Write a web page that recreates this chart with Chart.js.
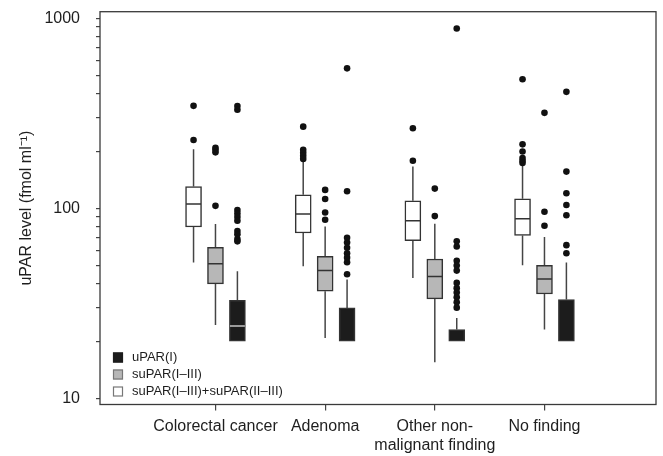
<!DOCTYPE html>
<html><head><meta charset="utf-8">
<script src="https://cdn.jsdelivr.net/npm/chart.js@4/dist/chart.umd.min.js"></script>
<style>html,body{margin:0;padding:0;background:#fff}canvas{display:block}</style>
</head><body>
<canvas id="c" width="663" height="456"></canvas>
<script>
// ---------------- DATA ----------------
const categories = ['Colorectal cancer', 'Adenoma', ['Other non-', 'malignant finding'], 'No finding'];
const seriesNames = ['uPAR(I)', 'suPAR(I–III)', 'suPAR(I–III)+suPAR(II–III)'];
const yTickValues = [10, 20, 30, 40, 50, 60, 70, 80, 90, 100, 200, 300, 400, 500, 600, 700, 800, 900, 1000];
const yTickLabels = ['10', '100', '1000'];
const yTitle = 'uPAR level (fmol ml⁻¹)';

// suPAR(I–III)+suPAR(II–III)  (white boxes)
const sumLow  = [51.9, 49.5, 43.0, 50.1];
const sumQ1   = [79.7, 74.1, 67.5, 72.0];
const sumMed  = [105.2, 93.2, 86.0, 88.1];
const sumQ3   = [130.1, 117.7, 109.5, 112.2];
const sumHigh = [204.5, 179.7, 165.8, 167.8];
const sumOut  = [[346, 229], [269, 203, 196, 189, 182], [264, 178], [478, 217, 199, 184, 178, 173]];

// suPAR(I–III)  (grey boxes)
const suLow  = [24.3, 20.8, 15.5, 23.0];
const suQ1   = [40.0, 36.6, 33.4, 35.4];
const suMed  = [51.1, 47.0, 43.7, 42.5];
const suQ3   = [62.3, 55.8, 54.1, 50.1];
const suHigh = [82.6, 80.3, 82.9, 70.6];
const suOut  = [[208, 203, 197, 103], [125, 112, 95, 87], [127, 91], [318, 96, 81]];

// uPAR(I)  (black boxes)
const uLow  = [20, 20, 20, 20];
const uQ1   = [20, 20, 20, 20];
const uMed  = [24.0, 20, 20, 20];
const uQ3   = [32.8, 29.9, 23.0, 33.1];
const uHigh = [46.6, 42.2, 26.5, 51.9];
const uOut  = [[345, 330, 98, 94, 90, 86, 76, 73, 69, 67],
               [545, 123, 70, 66, 62, 58, 55, 52, 45],
               [883, 67, 63, 53, 50, 47, 40.5, 38, 36, 34, 32, 30],
               [410, 156, 120, 104, 92, 64, 58]];

// ---------------- STYLE / LAYOUT ----------------
const FONT = '"Liberation Sans", Arial, Helvetica, sans-serif';
const INK = '#1e1e1e';
const BOX_HALF = 0.068;   // half box width in x units (for median segments)
const series = [
  {name: seriesNames[2], low: sumLow, q1: sumQ1, med: sumMed, q3: sumQ3, high: sumHigh, out: sumOut, fill: '#ffffff', medColor: '#333333', off: -0.2},
  {name: seriesNames[1], low: suLow,  q1: suQ1,  med: suMed,  q3: suQ3,  high: suHigh,  out: suOut,  fill: '#b7b7b7', medColor: '#333333', off: 0},
  {name: seriesNames[0], low: uLow,   q1: uQ1,   med: uMed,   q3: uQ3,   high: uHigh,   out: uOut,   fill: '#1c1c1c', medColor: '#c4c4c4', off: 0.2},
];

const datasets = [];
series.forEach(s => {
  const pos = categories.map((_, i) => i + 1 + s.off);
  datasets.push({
    type: 'bar', label: s.name, isBox: true,
    data: pos.map((x, i) => ({x, y: [s.q1[i], s.q3[i]]})),
    backgroundColor: s.fill, borderColor: '#333333', borderWidth: 1.5, borderSkipped: false,
    barThickness: 16, grouped: false, order: 3
  });
  const wh = [];
  pos.forEach((x, i) => {
    if (s.low[i] < s.q1[i]) wh.push({x, y: s.low[i]}, {x, y: s.q1[i]}, {x, y: null});
    if (s.high[i] > s.q3[i]) wh.push({x, y: s.q3[i]}, {x, y: s.high[i]}, {x, y: null});
  });
  datasets.push({type: 'line', label: '', data: wh, borderColor: '#454545', borderWidth: 1.5,
    pointRadius: 0, spanGaps: false, fill: false, order: 4});
  const md = [];
  pos.forEach((x, i) => {
    if (s.med[i] > s.q1[i]) md.push({x: x - BOX_HALF, y: s.med[i]}, {x: x + BOX_HALF, y: s.med[i]}, {x, y: null});
  });
  datasets.push({type: 'line', label: '', data: md, borderColor: s.medColor, borderWidth: 1.5,
    pointRadius: 0, spanGaps: false, fill: false, order: 0});
  const od = [];
  pos.forEach((x, i) => s.out[i].forEach(v => od.push({x, y: v})));
  datasets.push({type: 'scatter', label: '', data: od, backgroundColor: '#111111', borderWidth: 0,
    pointRadius: 3.3, order: 1});
});

const framePlugin = {
  id: 'frame',
  afterDatasetsDraw(chart) {
    const {ctx, chartArea: a} = chart;
    ctx.save();
    ctx.strokeStyle = '#3a3a3a';
    ctx.lineWidth = 1.3;
    ctx.strokeRect(a.left, a.top, a.right - a.left, a.bottom - a.top);
    ctx.restore();
  }
};

const boxLegend = {
  id: 'boxLegend',
  afterDraw(chart) {
    const {ctx, chartArea: a} = chart;
    const boxes = chart.data.datasets.filter(d => d.isBox).slice().reverse();
    ctx.save();
    ctx.font = '13px ' + FONT;
    ctx.textBaseline = 'middle';
    boxes.forEach((d, k) => {
      const bx = a.left + 13, by = a.bottom - 52 + k * 17;
      ctx.fillStyle = d.backgroundColor;
      ctx.fillRect(bx, by, 10, 10);
      ctx.strokeStyle = k === 0 ? '#1c1c1c' : '#777777';
      ctx.lineWidth = 1.2;
      ctx.strokeRect(bx + 0.5, by + 0.5, 9, 9);
      ctx.fillStyle = INK;
      ctx.fillText(d.label, bx + 19, by + 5);
    });
    ctx.restore();
  }
};

const noPad = sc => { sc.paddingTop = 0; sc.paddingBottom = 0; sc.paddingLeft = 0; sc.paddingRight = 0; };

Chart.defaults.font.family = FONT;
Chart.defaults.color = INK;

new Chart(document.getElementById('c'), {
  type: 'bar',
  data: {datasets},
  plugins: [framePlugin, boxLegend],
  options: {
    responsive: false,
    animation: false,
    layout: {padding: {top: 11.7, right: 7, left: 0, bottom: 0}},
    plugins: {legend: {display: false}, tooltip: {enabled: false}},
    scales: {
      x: {
        type: 'linear', min: -0.053, max: 5.017, offset: false,
        afterBuildTicks: sc => { sc.ticks = categories.map((_, i) => ({value: i + 1})); },
        afterFit: sc => { sc.height = 51.5; noPad(sc); },
        ticks: {
          autoSkip: false, maxRotation: 0, padding: 6,
          font: {size: 16}, color: INK,
          callback: v => categories[Math.round(v) - 1]
        },
        grid: {display: true, drawOnChartArea: false, drawTicks: true, tickLength: 6, color: '#444', offset: false, lineWidth: 1.2},
        border: {display: false}
      },
      y: {
        type: 'logarithmic', min: 9.28, max: 1083,
        afterBuildTicks: sc => { sc.ticks = yTickValues.map(v => ({value: v})); },
        afterFit: sc => { sc.width = 100; noPad(sc); },
        ticks: {
          autoSkip: false, padding: 16, font: {size: 16}, color: INK,
          callback: v => yTickLabels.includes(String(v)) ? String(v) : ''
        },
        grid: {display: true, drawOnChartArea: false, drawTicks: true, tickLength: 4, color: '#444', lineWidth: 1.2},
        border: {display: false},
        title: {display: true, text: yTitle, font: {size: 16}, color: INK, padding: {top: 17, bottom: 0}}
      }
    }
  }
});
</script>
</body></html>
